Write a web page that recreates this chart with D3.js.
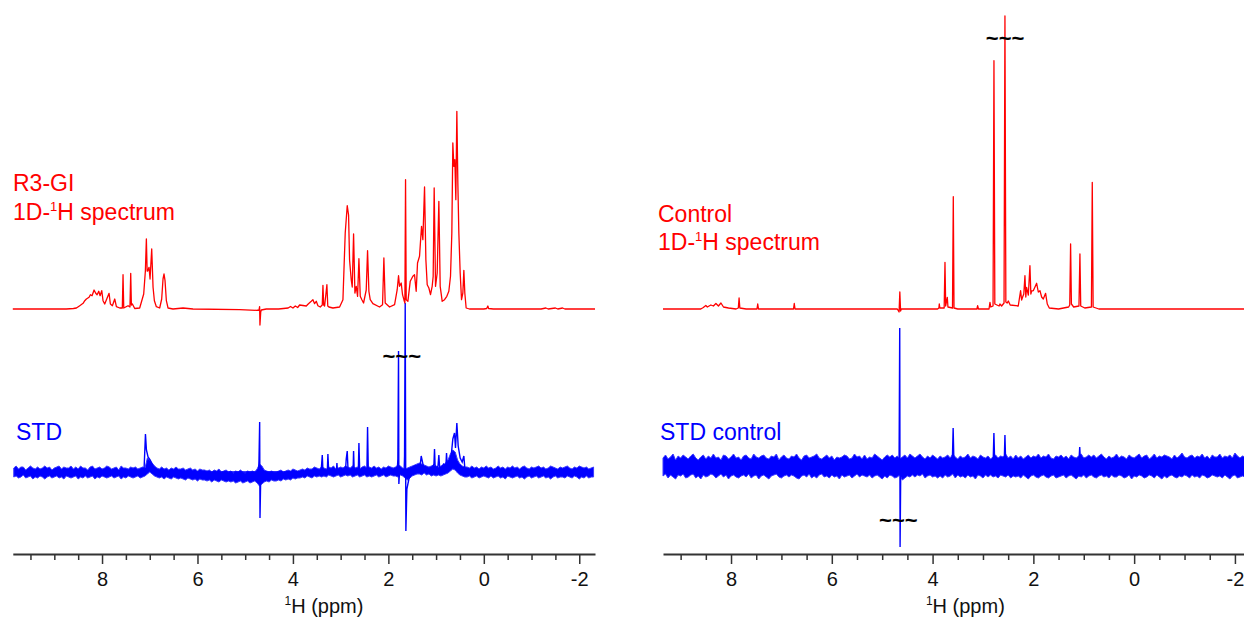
<!DOCTYPE html>
<html>
<head>
<meta charset="utf-8">
<script src="https://cdn.jsdelivr.net/npm/d3@7"></script>
<style>
  html, body { margin: 0; padding: 0; background: #fff; }
  svg { display: block; font-family: Arial, "Liberation Sans", sans-serif; }
</style>
</head>
<body>
<svg id="chart" width="1244" height="618"></svg>
<script>
// ---- Chemical shift axis ticks (ppm) ----
const majorTicks = [8, 6, 4, 2, 0, -2];
const minorTicks = [9.5, 9, 8.5, 7.5, 7, 6.5, 5.5, 5, 4.5, 3.5, 3, 2.5, 1.5, 1, 0.5, -0.5, -1, -1.5];

// ---- R3-GI 1D-1H spectrum: [ppm, intensity] vertices ----
const r3giSpectrum = [
  [9.87,0],[8.75,0],[8.60,0.5],
  [8.537,1],[8.467,3.3],[8.397,5.7],[8.362,8.3],[8.328,10],[8.272,11.7],[8.244,14.3],[8.209,13.3],[8.167,19],
  [8.132,15.7],[8.104,14.3],[8.069,17.7],[8.041,13.3],[8.006,18.3],[7.979,8.3],[7.944,5],[7.853,15.7],[7.825,5],
  [7.783,3.3],[7.734,10],[7.699,2.3],[7.629,1],[7.575,1],[7.560,34.3],[7.545,1],[7.455,3.3],[7.415,2],[7.399,35.7],
  [7.385,4],[7.364,5],[7.315,0.5],[7.211,1],[7.127,15],[7.092,38],[7.071,70],[7.055,38],[7.043,38],[7.015,41.7],
  [6.994,30],[6.959,60],[6.931,21.7],[6.903,8.3],[6.862,2.3],[6.792,1],[6.750,10],[6.722,30],[6.701,35],[6.680,28.3],
  [6.652,8.3],[6.617,1],[6.513,0],[6.303,1],[6.094,0],[5.116,-0.7],[4.767,-1.3],[4.711,-1],[4.698,2.3],[4.691,-16],
  [4.675,-3],[4.663,-1],[4.558,0],
  [4.30,0],[4.10,1],[4.05,2.5],[4.0,1],[3.95,3],[3.90,1.5],[3.86,4],[3.72,3],[3.68,5],[3.616,7.7],[3.581,9.3],
  [3.546,5.3],[3.511,7.7],[3.476,3.3],[3.427,2],[3.385,4],[3.371,23.7],[3.355,4],[3.336,3],[3.288,24.3],[3.27,3],
  [3.246,2],[3.162,1],[3.022,2],[2.952,9.3],[2.904,76],[2.862,103.3],[2.834,94],[2.813,49],[2.778,29],[2.757,22],
  [2.729,75],[2.701,16],[2.673,22.7],[2.645,12.7],[2.617,50.3],[2.589,12.7],[2.555,9.3],[2.520,6],[2.464,19],
  [2.436,58.3],[2.408,17.7],[2.380,9.3],[2.324,5.3],[2.185,2],[2.122,4.3],[2.094,51],[2.066,6],[1.975,2],[1.870,4.3],
  [1.815,19.3],[1.787,33.3],[1.766,22.7],[1.731,26],[1.703,14.3],[1.675,9.3],[1.654,6],[1.640,129.3],[1.626,9.3],
  [1.591,7.7],[1.542,27.7],[1.487,32.7],[1.452,34.3],[1.417,17.7],[1.389,46],[1.347,52.7],[1.305,82.7],[1.277,69.3],
  [1.242,122],[1.214,49.3],[1.186,24.3],[1.151,21],[1.117,14.3],[1.082,22.7],[1.061,32.7],[1.040,121],[1.012,22.7],
  [0.977,36],[0.942,107.7],[0.914,22.7],[0.872,7.7],[0.823,9.3],[0.775,12.7],[0.733,17.7],[0.698,32.7],[0.670,76],
  [0.649,166],[0.628,142.7],[0.607,149.3],[0.586,109.3],[0.565,197.7],[0.544,126],[0.523,76],[0.495,36],[0.467,9.3],
  [0.439,16],[0.418,38.7],[0.398,16],[0.370,1],[0.300,0],[0.0,0],[-0.06,0.5],[-0.085,3],[-0.10,0.5],[-0.2,0],
  [-1.2,0],[-1.3,1],[-1.35,0],[-1.5,1],[-1.55,0],[-1.65,1],[-1.7,0],[-2.33,0]
];

// ---- R3-GI STD difference spectrum: signals above the noise floor ----
const r3giStdPeaks = [
  [7.16,0],[7.12,2],[7.09,38],[7.07,22],[7.036,15],[6.99,12],[6.945,7],[6.90,2],[6.85,0],
  [4.72,0],[4.711,12],[4.697,50],[4.690,-46],[4.675,-6],[4.66,0],
  [3.41,0],[3.385,17],[3.37,0],[3.28,0],[3.267,18],[3.25,0],[3.09,0],[3.078,9],[3.065,0],
  [2.90,0],[2.883,13],[2.862,21],[2.845,2],[2.74,0],[2.729,21],[2.715,0],[2.63,0],[2.617,29],[2.60,0],
  [2.45,0],[2.436,45],[2.42,0],
  [1.815,0],[1.801,13],[1.787,121],[1.780,-12],[1.766,0],
  [1.67,0],[1.661,16],[1.647,169],[1.633,-59],[1.612,-17],[1.570,-7],[1.521,-2],[1.452,6],[1.382,5],[1.33,8],
  [1.312,16],[1.263,5],[1.207,3],[1.137,0],[1.082,4],[1.045,8],[1.033,23],[1.02,6],[0.998,4],[0.96,6],[0.942,17],
  [0.925,4],[0.900,3],[0.844,8],[0.795,6],[0.781,19],[0.765,5],[0.747,6],[0.70,10],[0.684,16],[0.649,33],[0.614,39],
  [0.593,24],[0.565,49],[0.537,26],[0.495,14],[0.453,10],[0.418,16],[0.40,5],[0.39,0],[0.335,0]
];
// STD noise floor envelope (upper / lower edge), every 0.05 ppm from 9.85 down to -2.30
const r3giStdNoiseStart = 9.85;
const r3giStdNoiseUpper = [
  4,6,3,5,5,2,4,6,4,3,  5,3,4,6,4,5,2,4,5,6,  3,5,4,4,6,3,5,3,6,4,  4,2,5,6,3,4,5,3,4,6,
  5,3,4,5,2,6,4,4,3,5,  4,5,3,4,5,4,14,12,9,6,  4,3,5,3,4,2,4,3,5,3,  3,4,2,3,4,2,3,1,3,2,
  2,1,2,0,2,1,3,0,1,2,  0,1,-1,1,0,2,0,-1,1,0,  1,0,3,8,6,2,1,0,1,0,  0,1,2,0,1,2,1,3,2,1,
  2,3,2,4,3,3,5,4,3,5,  4,3,5,4,6,3,4,5,4,6,  5,4,6,4,5,3,5,6,4,5,  4,6,4,5,3,5,4,6,5,4,
  5,7,6,4,3,4,5,6,7,8,  9,8,7,6,5,6,7,6,5,6,  7,9,12,18,22,20,12,8,6,5,  5,4,6,4,5,3,5,4,6,4,
  5,3,4,6,4,5,3,5,4,6,  4,5,3,5,6,4,3,5,4,5,  6,4,5,3,4,6,5,4,3,5,  4,5,6,4,3,5,4,6,5,4,
  5,3,4,5
];
const r3giStdNoiseLower = [
  -5,-4,-6,-5,-3,-6,-5,-4,-7,-5,  -6,-4,-5,-7,-5,-4,-6,-5,-4,-6,  -5,-7,-4,-5,-6,-5,-4,-7,-5,-6,  -4,-6,-5,-4,-7,-5,-6,-4,-5,-6,
  -5,-4,-6,-5,-4,-7,-5,-6,-4,-5,  -6,-5,-4,-6,-5,-4,-2,0,-2,-4,  -5,-6,-5,-7,-5,-6,-7,-5,-6,-7,  -6,-7,-8,-6,-7,-8,-7,-9,-7,-8,
  -8,-9,-8,-10,-8,-9,-10,-8,-9,-10,  -9,-10,-9,-11,-10,-9,-11,-10,-9,-11,  -10,-9,-11,-14,-12,-10,-9,-10,-8,-9,  -9,-8,-9,-7,-8,-7,-8,-6,-7,-6,
  -6,-5,-6,-4,-5,-6,-4,-5,-4,-5,  -4,-5,-3,-4,-5,-4,-3,-5,-4,-3,  -4,-3,-5,-4,-3,-5,-4,-3,-5,-4,  -5,-4,-3,-5,-4,-3,-5,-4,-3,-4,
  -4,-5,-3,-4,-6,-8,-6,-4,-3,-2,  -2,-3,-1,-3,-2,-4,-3,-4,-3,-4,  -3,-2,-1,1,3,2,-1,-3,-4,-5,  -5,-4,-6,-5,-4,-6,-5,-4,-5,-6,
  -4,-6,-5,-4,-6,-5,-7,-4,-5,-6,  -5,-4,-6,-5,-7,-5,-4,-6,-5,-4,  -6,-5,-4,-6,-5,-7,-5,-4,-6,-5,  -5,-6,-4,-5,-6,-4,-5,-7,-5,-6,
  -4,-6,-5,-5
];

// ---- Control 1D-1H spectrum: [ppm, intensity] vertices ----
const controlSpectrum = [
  [9.35,0],[8.6,0],[8.55,1.5],[8.50,3.5],[8.47,2],[8.40,4],[8.35,3],[8.30,5.5],[8.25,3],[8.20,6],[8.15,2],[8.05,1],
  [7.90,0],[7.855,1],[7.84,11],[7.825,1],[7.70,0],[7.485,0],[7.47,5],[7.455,0],[6.76,0],[6.745,5.5],[6.73,0],
  [5.0,0],[4.70,0],[4.665,-3],[4.65,17],[4.635,-2],[4.62,0],
  [3.90,0],[3.875,1],[3.867,5],[3.855,1],[3.77,1],[3.754,46.7],[3.74,3],[3.708,11.7],[3.695,2],[3.605,1],
  [3.589,112.3],[3.575,1],[3.50,0],[3.12,0],[3.106,3.3],[3.09,0],[2.88,0],[2.861,6.7],[2.845,2],[2.80,3],
  [2.782,248.3],[2.765,5],[2.68,3],[2.663,5],[2.63,3],[2.582,6],[2.564,293],[2.546,7],[2.52,6],[2.497,8],[2.46,4],
  [2.30,3],[2.253,18.3],[2.233,9],[2.213,12],[2.19,15],[2.167,33.3],[2.150,12],[2.134,21.7],[2.10,14],[2.068,43.3],
  [2.050,15],[2.035,18],[2.002,18.3],[1.968,22],[1.935,25.7],[1.902,17],[1.869,18.3],[1.836,12],[1.803,10],
  [1.757,15.7],[1.724,5],[1.684,1],[1.50,0],[1.40,1],[1.30,2],[1.278,4],[1.261,65],[1.245,5],[1.20,2],[1.095,3],
  [1.076,55],[1.06,3],[0.98,1],[0.848,2],[0.831,126.7],[0.814,2],[0.70,0],[-2.2,0]
];

// ---- Control STD difference spectrum ----
const controlStdPeaks = [
  [4.70,0],[4.665,3],[4.652,138],[4.645,-81],[4.632,-4],[4.62,0],
  [3.61,0],[3.592,38],[3.575,0],
  [2.80,0],[2.783,33],[2.766,0],
  [2.58,0],[2.564,31],[2.548,0],
  [1.10,0],[1.080,19],[1.06,0]
];
// STD noise floor envelope (upper / lower edge), every 0.05 ppm from 9.35 down to -2.20
const controlStdNoiseStart = 9.35;
const controlStdNoiseUpper = [
  8,11,7,9,12,6,10,8,11,9,  7,10,12,8,6,9,11,7,10,8,  12,8,9,6,11,10,7,9,12,8,  9,6,10,11,8,7,12,9,8,10,
  11,8,7,10,9,12,6,9,11,8,  7,10,9,12,8,6,10,11,8,9,  10,12,8,7,9,11,8,10,6,9,  8,9,11,10,7,8,12,9,10,7,
  11,7,9,8,12,10,8,6,9,11,  9,11,8,10,7,9,11,8,12,10,  8,10,12,9,7,10,8,11,9,7,  10,8,9,11,8,12,9,7,10,8,
  9,12,8,10,9,7,11,9,8,10,  7,9,11,8,10,9,12,8,10,7,  11,8,10,7,9,11,8,10,9,12,  8,10,9,12,8,7,10,9,11,8,
  10,7,11,9,8,10,12,8,9,11,  9,11,8,10,12,9,7,10,8,9,  12,8,10,9,7,11,9,8,10,12,  8,10,11,7,9,12,8,10,9,11,
  10,9,7,11,8,10,13,9,8,10,  11,8,10,9,12,8,10,7,11,9,  9,12,8,10,9,11,8,13,10,8,
  10,9
];
const controlStdNoiseLower = [
  -10,-8,-12,-9,-11,-13,-9,-10,-8,-12,  -11,-9,-8,-12,-10,-13,-9,-11,-10,-8,  -9,-12,-10,-8,-11,-9,-13,-10,-9,-11,  -12,-10,-9,-11,-8,-12,-10,-9,-13,-10,
  -9,-11,-13,-10,-9,-8,-11,-12,-10,-9,  -11,-9,-10,-12,-13,-10,-9,-11,-8,-12,  -10,-12,-9,-8,-11,-10,-12,-9,-11,-10,  -13,-9,-11,-10,-9,-12,-10,-8,-11,-9,
  -10,-11,-9,-12,-10,-9,-11,-13,-10,-12,  -9,-10,-12,-11,-9,-14,-12,-10,-11,-9,  -11,-9,-10,-8,-12,-10,-9,-11,-10,-12,  -10,-12,-9,-11,-10,-8,-12,-9,-11,-10,
  -12,-9,-11,-10,-13,-9,-10,-12,-9,-11,  -9,-11,-10,-12,-9,-10,-11,-9,-12,-10,  -11,-10,-12,-9,-11,-13,-10,-9,-11,-12,  -10,-9,-11,-12,-10,-9,-12,-11,-10,-9,
  -12,-10,-9,-11,-13,-10,-11,-9,-12,-10,  -9,-11,-12,-10,-9,-11,-10,-12,-9,-11,  -11,-9,-10,-12,-11,-9,-13,-10,-11,-9,  -10,-12,-11,-9,-10,-12,-9,-11,-13,-10,
  -12,-10,-9,-11,-12,-10,-11,-9,-10,-12,  -9,-11,-10,-12,-9,-10,-12,-11,-9,-10,  -11,-10,-12,-9,-11,-13,-10,-9,-12,-11,
  -10,-11
];

// ---- Drawing ----
const RED = "#ff0000";
const BLUE = "#0000ff";
const svg = d3.select("#chart");

function noiseBand(start, upper, lower) {
  return upper.map((u, i) => ({ ppm: +(start - i * 0.05).toFixed(3), hi: u, lo: lower[i] }));
}

function drawPanel(p) {
  const g = svg.append("g");
  const x = d3.scaleLinear().domain(p.ppmDomain).range(p.xRange);
  const yTop = d3.scaleLinear().domain([0, 100]).range([p.topBase, p.topBase - 100]);
  const yStd = d3.scaleLinear().domain([0, 100]).range([p.stdBase, p.stdBase - 100]);

  // STD noise floor
  const band = noiseBand(p.noiseStart, p.noiseUpper, p.noiseLower);
  g.append("path")
    .datum(band)
    .attr("fill", BLUE)
    .attr("stroke", "#3a3aff")
    .attr("stroke-width", 1)
    .attr("stroke-linejoin", "miter")
    .attr("d", d3.area().x(d => x(d.ppm)).y0(d => yStd(d.lo)).y1(d => yStd(d.hi)));

  // STD signals
  const stdLine = d3.line().x(d => x(d[0])).y(d => yStd(d[1]));
  g.append("path")
    .datum(p.stdPeaks)
    .attr("fill", "none")
    .attr("stroke", BLUE)
    .attr("stroke-width", 1.4)
    .attr("d", stdLine);

  // 1D-1H reference spectrum
  const topLine = d3.line().x(d => x(d[0])).y(d => yTop(d[1]));
  g.append("path")
    .datum(p.spectrum)
    .attr("fill", "none")
    .attr("stroke", RED)
    .attr("stroke-width", 1.3)
    .attr("stroke-linejoin", "round")
    .attr("d", topLine);

  // Axis
  const [lo, hi] = d3.extent(p.ppmDomain);
  const axisG = g.append("g").attr("transform", `translate(0,${p.axisY})`);
  axisG.call(d3.axisBottom(x).tickValues(majorTicks.filter(t => t >= lo && t <= hi)).tickSize(10).tickSizeOuter(0)
    .tickPadding(8).tickFormat(d => String(d)));
  axisG.append("g").call(d3.axisBottom(x).tickValues(minorTicks.filter(t => t >= lo && t <= hi)).tickSize(6).tickSizeOuter(0)
    .tickFormat(""))
    .select(".domain").remove();
  axisG.selectAll(".domain").attr("stroke", "#333").attr("stroke-width", 2);
  axisG.selectAll(".tick line").attr("stroke", "#333").attr("stroke-width", 1.5);
  axisG.selectAll(".tick text").attr("font-size", 20).attr("fill", "#111")
    .attr("font-family", "Arial, 'Liberation Sans', sans-serif");

  // Axis title
  const title = g.append("text")
    .attr("x", x(p.titlePpm)).attr("y", p.axisY + 59)
    .attr("text-anchor", "middle").attr("font-size", 20).attr("fill", "#111");
  title.append("tspan").attr("font-size", 12).attr("dy", -8).text("1");
  title.append("tspan").attr("dy", 8).text("H (ppm)");

  // Trace labels
  p.labels.forEach(l => {
    const t = g.append("text").attr("x", l.x).attr("y", l.y)
      .attr("font-size", 23).attr("fill", l.color);
    l.parts.forEach(part => {
      if (part.sup) t.append("tspan").attr("font-size", 13).attr("dy", -9).text(part.text);
      else t.append("tspan").attr("dy", part.after ? 9 : 0).text(part.text);
    });
  });

  // Break marks on truncated signals
  p.breaks.forEach(b => {
    g.append("text").attr("x", x(b.ppm)).attr("y", b.y)
      .attr("text-anchor", "middle").attr("font-size", 22).attr("font-weight", "bold")
      .attr("fill", "#000").text("~~~");
  });
}

drawPanel({
  ppmDomain: [9.87, -2.33], xRange: [12.8, 595],
  topBase: 309, stdBase: 472, axisY: 554, titlePpm: 3.35,
  spectrum: r3giSpectrum, stdPeaks: r3giStdPeaks,
  noiseStart: r3giStdNoiseStart, noiseUpper: r3giStdNoiseUpper, noiseLower: r3giStdNoiseLower,
  labels: [
    { x: 13, y: 191, color: RED, parts: [{ text: "R3-GI" }] },
    { x: 13, y: 220, color: RED, parts: [{ text: "1D-" }, { text: "1", sup: true }, { text: "H spectrum", after: true }] },
    { x: 16, y: 440, color: BLUE, parts: [{ text: "STD" }] }
  ],
  breaks: [{ ppm: 1.72, y: 364 }]
});

drawPanel({
  ppmDomain: [9.35, -2.2], xRange: [663, 1245],
  topBase: 309, stdBase: 466, axisY: 554, titlePpm: 3.35,
  spectrum: controlSpectrum, stdPeaks: controlStdPeaks,
  noiseStart: controlStdNoiseStart, noiseUpper: controlStdNoiseUpper, noiseLower: controlStdNoiseLower,
  labels: [
    { x: 658, y: 222, color: RED, parts: [{ text: "Control" }] },
    { x: 658, y: 250, color: RED, parts: [{ text: "1D-" }, { text: "1", sup: true }, { text: "H spectrum", after: true }] },
    { x: 660, y: 440, color: BLUE, parts: [{ text: "STD control" }] }
  ],
  breaks: [{ ppm: 2.56, y: 46 }, { ppm: 4.68, y: 528 }]
});
</script>
</body>
</html>
